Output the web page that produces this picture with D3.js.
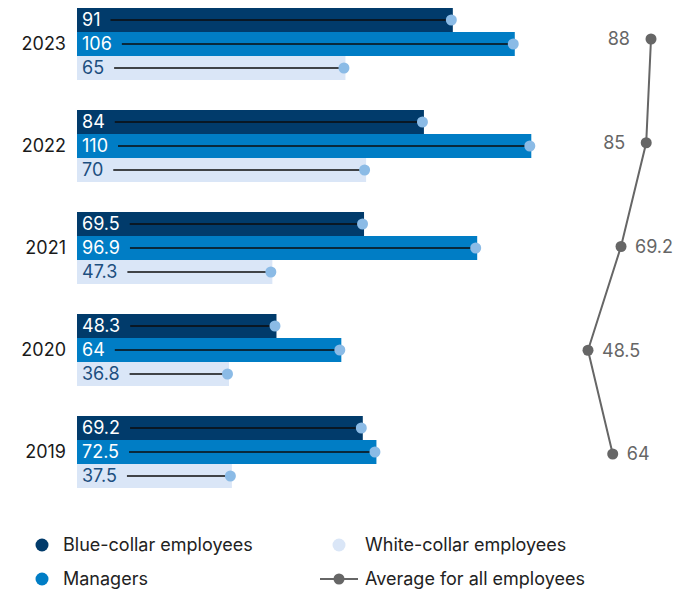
<!DOCTYPE html>
<html><head><meta charset="utf-8">
<script src="https://cdn.jsdelivr.net/npm/d3@7"></script>
<style>body{margin:0;background:#fff}svg{display:block;font-family:Inter,"Noto Sans",sans-serif}</style>
</head><body><svg id="c" width="673" height="592"></svg>
<script>
const years = ["2023","2022","2021","2020","2019"];
const series = ["Blue-collar employees","Managers","White-collar employees"];
const blueCollar = [91, 84, 69.5, 48.3, 69.2];
const managers = [106, 110, 96.9, 64, 72.5];
const whiteCollar = [65, 70, 47.3, 36.8, 37.5];
const average = [88, 85, 69.2, 48.5, 64];
const avgLabelSide = ["left","left","right","right","right"];

const colors = ["#013b6b","#007dc5","#dae6f7"];
const textColors = ["#ffffff","#ffffff","#1d4f7f"];
const dotColor = "#8bbbe6";
const avgColor = "#666666";
const FS = 18;

const svg = d3.select("#c");
const x = d3.scaleLinear().domain([0, 110]).range([77, 77 + 110*4.13]);
const y = d3.scaleBand().domain(years).range([8, 488]).paddingInner(30/102).paddingOuter(0);
const yi = d3.scaleBand().domain(series).range([0, y.bandwidth()]);
const xa = d3.scaleLinear().domain([48.5, 88]).range([588, 651]);
const ya = d3.scalePoint().domain(years).range([39, 454]);

const valuesBy = [blueCollar, managers, whiteCollar];

years.forEach((yr, i) => {
  const g = svg.append("g").attr("transform", `translate(0,${y(yr)})`);
  g.append("text").attr("x", 66).attr("y", y.bandwidth()/2).attr("dy","0.36em")
    .attr("text-anchor","end").attr("font-size",FS).attr("fill","#1a1a1a").text(yr);
  series.forEach((s, j) => {
    const v = valuesBy[j][i];
    const yy = yi(s), h = yi.bandwidth(), cy = yy + h/2;
    g.append("rect").attr("x", x(0)).attr("y", yy).attr("width", x(v)-x(0)).attr("height", h).attr("fill", colors[j]);
    const t = g.append("text").attr("x", x(0)+5).attr("y", cy).attr("dy","0.36em")
      .attr("font-size",FS).attr("fill", textColors[j]).text(String(v));
    const tl = t.node().getComputedTextLength();
    g.append("line").attr("x1", x(0)+5+tl+10).attr("x2", x(v)-2).attr("y1", cy).attr("y2", cy)
      .attr("stroke","#0d0d0d").attr("stroke-width",1.5);
    g.append("circle").attr("cx", x(v)-1.5).attr("cy", cy).attr("r",5.5).attr("fill", dotColor);
  });
});

// average line
const pts = years.map((yr,i)=>[xa(average[i]), ya(yr)]);
svg.append("path").attr("d", d3.line()(pts)).attr("fill","none").attr("stroke",avgColor).attr("stroke-width",2);
pts.forEach((p,i)=>{
  svg.append("circle").attr("cx",p[0]).attr("cy",p[1]).attr("r",5.5).attr("fill",avgColor);
  const left = avgLabelSide[i]==="left";
  svg.append("text").attr("x", left ? p[0]-21 : p[0]+14).attr("y",p[1]).attr("dy","0.36em")
    .attr("text-anchor", left ? "end":"start").attr("font-size",FS).attr("fill",avgColor).text(String(average[i]));
});

// legend
const leg = [
  {label: series[0], x: 42, tx: 63, y: 545, type:"dot", c: colors[0]},
  {label: series[2], x: 339, tx: 365, y: 545, type:"dot", c: colors[2]},
  {label: series[1], x: 42, tx: 63, y: 579, type:"dot", c: colors[1]},
  {label: "Average for all employees", x: 339, tx: 365, y: 579, type:"line", c: avgColor}
];
leg.forEach(l=>{
  if(l.type==="dot"){
    svg.append("circle").attr("cx",l.x).attr("cy",l.y).attr("r",6.5).attr("fill",l.c);
  } else {
    svg.append("line").attr("x1",l.x-19).attr("x2",l.x+19).attr("y1",l.y).attr("y2",l.y).attr("stroke",l.c).attr("stroke-width",2);
    svg.append("circle").attr("cx",l.x).attr("cy",l.y).attr("r",5.5).attr("fill",l.c);
  }
  svg.append("text").attr("x",l.tx).attr("y",l.y).attr("dy","0.36em").attr("font-size",FS).attr("fill","#222").text(l.label);
});
</script></body></html>
